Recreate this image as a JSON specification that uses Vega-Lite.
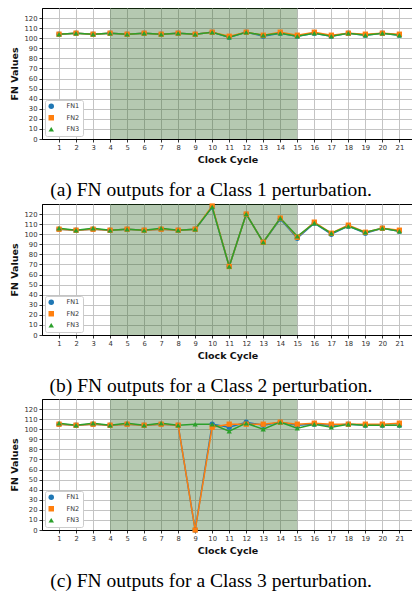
{
  "$schema": "https://vega.github.io/schema/vega-lite/v6.json",
  "padding": {"left": 8, "top": 7, "right": 0, "bottom": 0},
  "background": "white",
  "datasets": {
    "shade": [{"start": 4, "end": 15, "low": 0, "high": 130}],
    "a": [
      {"cycle": 1, "series": "FN1", "value": 104}, {"cycle": 1, "series": "FN2", "value": 104}, {"cycle": 1, "series": "FN3", "value": 104},
      {"cycle": 2, "series": "FN1", "value": 105}, {"cycle": 2, "series": "FN2", "value": 105}, {"cycle": 2, "series": "FN3", "value": 105},
      {"cycle": 3, "series": "FN1", "value": 104}, {"cycle": 3, "series": "FN2", "value": 104}, {"cycle": 3, "series": "FN3", "value": 104},
      {"cycle": 4, "series": "FN1", "value": 105}, {"cycle": 4, "series": "FN2", "value": 105}, {"cycle": 4, "series": "FN3", "value": 105},
      {"cycle": 5, "series": "FN1", "value": 104}, {"cycle": 5, "series": "FN2", "value": 104}, {"cycle": 5, "series": "FN3", "value": 104},
      {"cycle": 6, "series": "FN1", "value": 105}, {"cycle": 6, "series": "FN2", "value": 105}, {"cycle": 6, "series": "FN3", "value": 105},
      {"cycle": 7, "series": "FN1", "value": 104}, {"cycle": 7, "series": "FN2", "value": 104}, {"cycle": 7, "series": "FN3", "value": 104},
      {"cycle": 8, "series": "FN1", "value": 105}, {"cycle": 8, "series": "FN2", "value": 105}, {"cycle": 8, "series": "FN3", "value": 105},
      {"cycle": 9, "series": "FN1", "value": 104}, {"cycle": 9, "series": "FN2", "value": 104}, {"cycle": 9, "series": "FN3", "value": 104},
      {"cycle": 10, "series": "FN1", "value": 106}, {"cycle": 10, "series": "FN2", "value": 106}, {"cycle": 10, "series": "FN3", "value": 106},
      {"cycle": 11, "series": "FN1", "value": 101}, {"cycle": 11, "series": "FN2", "value": 102}, {"cycle": 11, "series": "FN3", "value": 101},
      {"cycle": 12, "series": "FN1", "value": 106}, {"cycle": 12, "series": "FN2", "value": 106}, {"cycle": 12, "series": "FN3", "value": 106},
      {"cycle": 13, "series": "FN1", "value": 102}, {"cycle": 13, "series": "FN2", "value": 103}, {"cycle": 13, "series": "FN3", "value": 103},
      {"cycle": 14, "series": "FN1", "value": 105}, {"cycle": 14, "series": "FN2", "value": 106}, {"cycle": 14, "series": "FN3", "value": 105},
      {"cycle": 15, "series": "FN1", "value": 102}, {"cycle": 15, "series": "FN2", "value": 103}, {"cycle": 15, "series": "FN3", "value": 102},
      {"cycle": 16, "series": "FN1", "value": 105}, {"cycle": 16, "series": "FN2", "value": 106}, {"cycle": 16, "series": "FN3", "value": 105},
      {"cycle": 17, "series": "FN1", "value": 102}, {"cycle": 17, "series": "FN2", "value": 103}, {"cycle": 17, "series": "FN3", "value": 102},
      {"cycle": 18, "series": "FN1", "value": 105}, {"cycle": 18, "series": "FN2", "value": 105}, {"cycle": 18, "series": "FN3", "value": 105},
      {"cycle": 19, "series": "FN1", "value": 103}, {"cycle": 19, "series": "FN2", "value": 104}, {"cycle": 19, "series": "FN3", "value": 103},
      {"cycle": 20, "series": "FN1", "value": 105}, {"cycle": 20, "series": "FN2", "value": 105}, {"cycle": 20, "series": "FN3", "value": 105},
      {"cycle": 21, "series": "FN1", "value": 103}, {"cycle": 21, "series": "FN2", "value": 104}, {"cycle": 21, "series": "FN3", "value": 103}
    ],
    "b": [
      {"cycle": 1, "series": "FN1", "value": 105}, {"cycle": 1, "series": "FN2", "value": 105}, {"cycle": 1, "series": "FN3", "value": 106},
      {"cycle": 2, "series": "FN1", "value": 104}, {"cycle": 2, "series": "FN2", "value": 104}, {"cycle": 2, "series": "FN3", "value": 104},
      {"cycle": 3, "series": "FN1", "value": 105}, {"cycle": 3, "series": "FN2", "value": 105}, {"cycle": 3, "series": "FN3", "value": 106},
      {"cycle": 4, "series": "FN1", "value": 104}, {"cycle": 4, "series": "FN2", "value": 104}, {"cycle": 4, "series": "FN3", "value": 104},
      {"cycle": 5, "series": "FN1", "value": 105}, {"cycle": 5, "series": "FN2", "value": 105}, {"cycle": 5, "series": "FN3", "value": 105},
      {"cycle": 6, "series": "FN1", "value": 104}, {"cycle": 6, "series": "FN2", "value": 104}, {"cycle": 6, "series": "FN3", "value": 104},
      {"cycle": 7, "series": "FN1", "value": 105}, {"cycle": 7, "series": "FN2", "value": 105}, {"cycle": 7, "series": "FN3", "value": 106},
      {"cycle": 8, "series": "FN1", "value": 104}, {"cycle": 8, "series": "FN2", "value": 104}, {"cycle": 8, "series": "FN3", "value": 104},
      {"cycle": 9, "series": "FN1", "value": 105}, {"cycle": 9, "series": "FN2", "value": 105}, {"cycle": 9, "series": "FN3", "value": 105},
      {"cycle": 10, "series": "FN1", "value": 127}, {"cycle": 10, "series": "FN2", "value": 128}, {"cycle": 10, "series": "FN3", "value": 127},
      {"cycle": 11, "series": "FN1", "value": 68}, {"cycle": 11, "series": "FN2", "value": 68}, {"cycle": 11, "series": "FN3", "value": 68},
      {"cycle": 12, "series": "FN1", "value": 120}, {"cycle": 12, "series": "FN2", "value": 120}, {"cycle": 12, "series": "FN3", "value": 120},
      {"cycle": 13, "series": "FN1", "value": 92}, {"cycle": 13, "series": "FN2", "value": 92}, {"cycle": 13, "series": "FN3", "value": 92},
      {"cycle": 14, "series": "FN1", "value": 115}, {"cycle": 14, "series": "FN2", "value": 116}, {"cycle": 14, "series": "FN3", "value": 116},
      {"cycle": 15, "series": "FN1", "value": 96}, {"cycle": 15, "series": "FN2", "value": 97}, {"cycle": 15, "series": "FN3", "value": 98},
      {"cycle": 16, "series": "FN1", "value": 111}, {"cycle": 16, "series": "FN2", "value": 112}, {"cycle": 16, "series": "FN3", "value": 111},
      {"cycle": 17, "series": "FN1", "value": 100}, {"cycle": 17, "series": "FN2", "value": 101}, {"cycle": 17, "series": "FN3", "value": 101},
      {"cycle": 18, "series": "FN1", "value": 108}, {"cycle": 18, "series": "FN2", "value": 109}, {"cycle": 18, "series": "FN3", "value": 108},
      {"cycle": 19, "series": "FN1", "value": 101}, {"cycle": 19, "series": "FN2", "value": 102}, {"cycle": 19, "series": "FN3", "value": 102},
      {"cycle": 20, "series": "FN1", "value": 106}, {"cycle": 20, "series": "FN2", "value": 106}, {"cycle": 20, "series": "FN3", "value": 106},
      {"cycle": 21, "series": "FN1", "value": 103}, {"cycle": 21, "series": "FN2", "value": 104}, {"cycle": 21, "series": "FN3", "value": 103}
    ],
    "c": [
      {"cycle": 1, "series": "FN1", "value": 105}, {"cycle": 1, "series": "FN2", "value": 105}, {"cycle": 1, "series": "FN3", "value": 106},
      {"cycle": 2, "series": "FN1", "value": 104}, {"cycle": 2, "series": "FN2", "value": 104}, {"cycle": 2, "series": "FN3", "value": 104},
      {"cycle": 3, "series": "FN1", "value": 105}, {"cycle": 3, "series": "FN2", "value": 105}, {"cycle": 3, "series": "FN3", "value": 106},
      {"cycle": 4, "series": "FN1", "value": 104}, {"cycle": 4, "series": "FN2", "value": 104}, {"cycle": 4, "series": "FN3", "value": 104},
      {"cycle": 5, "series": "FN1", "value": 105}, {"cycle": 5, "series": "FN2", "value": 105}, {"cycle": 5, "series": "FN3", "value": 106},
      {"cycle": 6, "series": "FN1", "value": 104}, {"cycle": 6, "series": "FN2", "value": 104}, {"cycle": 6, "series": "FN3", "value": 104},
      {"cycle": 7, "series": "FN1", "value": 105}, {"cycle": 7, "series": "FN2", "value": 105}, {"cycle": 7, "series": "FN3", "value": 106},
      {"cycle": 8, "series": "FN1", "value": 104}, {"cycle": 8, "series": "FN2", "value": 104}, {"cycle": 8, "series": "FN3", "value": 104},
      {"cycle": 9, "series": "FN1", "value": 0}, {"cycle": 9, "series": "FN2", "value": 0}, {"cycle": 9, "series": "FN3", "value": 105},
      {"cycle": 10, "series": "FN1", "value": 105}, {"cycle": 10, "series": "FN2", "value": 102}, {"cycle": 10, "series": "FN3", "value": 105},
      {"cycle": 11, "series": "FN1", "value": 102}, {"cycle": 11, "series": "FN2", "value": 105}, {"cycle": 11, "series": "FN3", "value": 98},
      {"cycle": 12, "series": "FN1", "value": 107}, {"cycle": 12, "series": "FN2", "value": 105}, {"cycle": 12, "series": "FN3", "value": 106},
      {"cycle": 13, "series": "FN1", "value": 104}, {"cycle": 13, "series": "FN2", "value": 105}, {"cycle": 13, "series": "FN3", "value": 100},
      {"cycle": 14, "series": "FN1", "value": 107}, {"cycle": 14, "series": "FN2", "value": 107}, {"cycle": 14, "series": "FN3", "value": 107},
      {"cycle": 15, "series": "FN1", "value": 104}, {"cycle": 15, "series": "FN2", "value": 105}, {"cycle": 15, "series": "FN3", "value": 101},
      {"cycle": 16, "series": "FN1", "value": 105}, {"cycle": 16, "series": "FN2", "value": 106}, {"cycle": 16, "series": "FN3", "value": 105},
      {"cycle": 17, "series": "FN1", "value": 104}, {"cycle": 17, "series": "FN2", "value": 105}, {"cycle": 17, "series": "FN3", "value": 102},
      {"cycle": 18, "series": "FN1", "value": 105}, {"cycle": 18, "series": "FN2", "value": 105}, {"cycle": 18, "series": "FN3", "value": 105},
      {"cycle": 19, "series": "FN1", "value": 104}, {"cycle": 19, "series": "FN2", "value": 105}, {"cycle": 19, "series": "FN3", "value": 104},
      {"cycle": 20, "series": "FN1", "value": 104}, {"cycle": 20, "series": "FN2", "value": 105}, {"cycle": 20, "series": "FN3", "value": 104},
      {"cycle": 21, "series": "FN1", "value": 104}, {"cycle": 21, "series": "FN2", "value": 106}, {"cycle": 21, "series": "FN3", "value": 104}
    ]
  },
  "config": {
    "view": {"stroke": "#000000", "strokeWidth": 1},
    "axis": {
      "grid": true, "labelOverlap": false,
      "domainColor": "#000000", "domainWidth": 1,
      "tickColor": "#000000", "tickSize": 3, "tickWidth": 0.8,
      "gridColor": "#c4c4c4", "gridWidth": 1, "gridOpacity": 1,
      "labelFont": "DejaVu Sans", "labelFontSize": 6.8, "labelColor": "#333333", "labelPadding": 2,
      "titleFont": "DejaVu Sans", "titleFontSize": 9.5, "titleFontWeight": "bold", "titleColor": "#111111"
    },
    "axisY": {"titlePadding": 5},
    "title": {"font": "Liberation Serif", "fontSize": 19.5, "fontWeight": "normal", "color": "#000000", "orient": "bottom", "anchor": "middle", "frame": "bounds", "offset": 17},
    "legend": {
      "orient": "bottom-left", "offset": 3, "padding": 3, "fillColor": "#ffffff", "strokeColor": "#cccccc", "cornerRadius": 2,
      "labelFont": "DejaVu Sans", "labelFontSize": 6.5, "labelColor": "#333333", "symbolSize": 30, "rowPadding": 4.5, "labelOffset": 12,
      "symbolStrokeWidth": 0, "title": null
    }
  },
  "resolve": {"legend": {"color": "independent", "shape": "independent"}},
  "spacing": 1,
  "vconcat": [
    {
      "width": 371, "height": 131,
      "title": {"text": "(a) FN outputs for a Class 1 perturbation."},
      "layer": [
        {"data": {"name": "shade"}, "mark": {"type": "rect", "color": "#2c6520", "opacity": 0.35},
         "encoding": {
           "x": {"field": "start", "type": "quantitative", "scale": {"domain": [0, 21.8], "nice": false, "zero": false}, "axis": {"title": "Clock Cycle", "values": [1,2,3,4,5,6,7,8,9,10,11,12,13,14,15,16,17,18,19,20,21]}}, "x2": {"field": "end"},
           "y": {"field": "low", "type": "quantitative", "scale": {"domain": [0, 130], "nice": false}, "axis": {"title": "FN Values", "values": [0,10,20,30,40,50,60,70,80,90,100,110,120]}}, "y2": {"field": "high"}}},
        {"data": {"name": "a"}, "mark": {"type": "line", "strokeWidth": 1.5},
         "encoding": {
           "x": {"field": "cycle", "type": "quantitative", "axis": {"title": "Clock Cycle", "values": [1,2,3,4,5,6,7,8,9,10,11,12,13,14,15,16,17,18,19,20,21]}},
           "y": {"field": "value", "type": "quantitative", "axis": {"title": "FN Values", "values": [0,10,20,30,40,50,60,70,80,90,100,110,120]}},
           "color": {"field": "series", "type": "nominal", "scale": {"domain": ["FN1", "FN2", "FN3"], "range": ["#1f77b4", "#ff7f0e", "#2ca02c"]}}
         }},
        {"data": {"name": "a"}, "mark": {"type": "point", "filled": true, "size": 28, "opacity": 1},
         "encoding": {
           "x": {"field": "cycle", "type": "quantitative", "axis": {"title": "Clock Cycle", "values": [1,2,3,4,5,6,7,8,9,10,11,12,13,14,15,16,17,18,19,20,21]}},
           "y": {"field": "value", "type": "quantitative", "axis": {"title": "FN Values", "values": [0,10,20,30,40,50,60,70,80,90,100,110,120]}},
           "color": {"field": "series", "type": "nominal", "scale": {"domain": ["FN1", "FN2", "FN3"], "range": ["#1f77b4", "#ff7f0e", "#2ca02c"]}},
           "shape": {"field": "series", "type": "nominal", "scale": {"domain": ["FN1", "FN2", "FN3"], "range": ["circle", "square", "triangle-up"]}}
         }}
      ]
    },
    {
      "width": 371, "height": 131,
      "title": {"text": "(b) FN outputs for a Class 2 perturbation."},
      "layer": [
        {"data": {"name": "shade"}, "mark": {"type": "rect", "color": "#2c6520", "opacity": 0.35},
         "encoding": {
           "x": {"field": "start", "type": "quantitative", "scale": {"domain": [0, 21.8], "nice": false, "zero": false}, "axis": {"title": "Clock Cycle", "values": [1,2,3,4,5,6,7,8,9,10,11,12,13,14,15,16,17,18,19,20,21]}}, "x2": {"field": "end"},
           "y": {"field": "low", "type": "quantitative", "scale": {"domain": [0, 130], "nice": false}, "axis": {"title": "FN Values", "values": [0,10,20,30,40,50,60,70,80,90,100,110,120]}}, "y2": {"field": "high"}}},
        {"data": {"name": "b"}, "mark": {"type": "line", "strokeWidth": 1.5},
         "encoding": {
           "x": {"field": "cycle", "type": "quantitative", "axis": {"title": "Clock Cycle", "values": [1,2,3,4,5,6,7,8,9,10,11,12,13,14,15,16,17,18,19,20,21]}},
           "y": {"field": "value", "type": "quantitative", "axis": {"title": "FN Values", "values": [0,10,20,30,40,50,60,70,80,90,100,110,120]}},
           "color": {"field": "series", "type": "nominal", "scale": {"domain": ["FN1", "FN2", "FN3"], "range": ["#1f77b4", "#ff7f0e", "#2ca02c"]}}
         }},
        {"data": {"name": "b"}, "mark": {"type": "point", "filled": true, "size": 28, "opacity": 1},
         "encoding": {
           "x": {"field": "cycle", "type": "quantitative", "axis": {"title": "Clock Cycle", "values": [1,2,3,4,5,6,7,8,9,10,11,12,13,14,15,16,17,18,19,20,21]}},
           "y": {"field": "value", "type": "quantitative", "axis": {"title": "FN Values", "values": [0,10,20,30,40,50,60,70,80,90,100,110,120]}},
           "color": {"field": "series", "type": "nominal", "scale": {"domain": ["FN1", "FN2", "FN3"], "range": ["#1f77b4", "#ff7f0e", "#2ca02c"]}},
           "shape": {"field": "series", "type": "nominal", "scale": {"domain": ["FN1", "FN2", "FN3"], "range": ["circle", "square", "triangle-up"]}}
         }}
      ]
    },
    {
      "width": 371, "height": 131,
      "title": {"text": "(c) FN outputs for a Class 3 perturbation."},
      "layer": [
        {"data": {"name": "shade"}, "mark": {"type": "rect", "color": "#2c6520", "opacity": 0.35},
         "encoding": {
           "x": {"field": "start", "type": "quantitative", "scale": {"domain": [0, 21.8], "nice": false, "zero": false}, "axis": {"title": "Clock Cycle", "values": [1,2,3,4,5,6,7,8,9,10,11,12,13,14,15,16,17,18,19,20,21]}}, "x2": {"field": "end"},
           "y": {"field": "low", "type": "quantitative", "scale": {"domain": [0, 130], "nice": false}, "axis": {"title": "FN Values", "values": [0,10,20,30,40,50,60,70,80,90,100,110,120]}}, "y2": {"field": "high"}}},
        {"data": {"name": "c"}, "mark": {"type": "line", "strokeWidth": 1.5},
         "encoding": {
           "x": {"field": "cycle", "type": "quantitative", "axis": {"title": "Clock Cycle", "values": [1,2,3,4,5,6,7,8,9,10,11,12,13,14,15,16,17,18,19,20,21]}},
           "y": {"field": "value", "type": "quantitative", "axis": {"title": "FN Values", "values": [0,10,20,30,40,50,60,70,80,90,100,110,120]}},
           "color": {"field": "series", "type": "nominal", "scale": {"domain": ["FN1", "FN2", "FN3"], "range": ["#1f77b4", "#ff7f0e", "#2ca02c"]}}
         }},
        {"data": {"name": "c"}, "mark": {"type": "point", "filled": true, "size": 28, "opacity": 1},
         "encoding": {
           "x": {"field": "cycle", "type": "quantitative", "axis": {"title": "Clock Cycle", "values": [1,2,3,4,5,6,7,8,9,10,11,12,13,14,15,16,17,18,19,20,21]}},
           "y": {"field": "value", "type": "quantitative", "axis": {"title": "FN Values", "values": [0,10,20,30,40,50,60,70,80,90,100,110,120]}},
           "color": {"field": "series", "type": "nominal", "scale": {"domain": ["FN1", "FN2", "FN3"], "range": ["#1f77b4", "#ff7f0e", "#2ca02c"]}},
           "shape": {"field": "series", "type": "nominal", "scale": {"domain": ["FN1", "FN2", "FN3"], "range": ["circle", "square", "triangle-up"]}}
         }}
      ]
    }
  ]
}
